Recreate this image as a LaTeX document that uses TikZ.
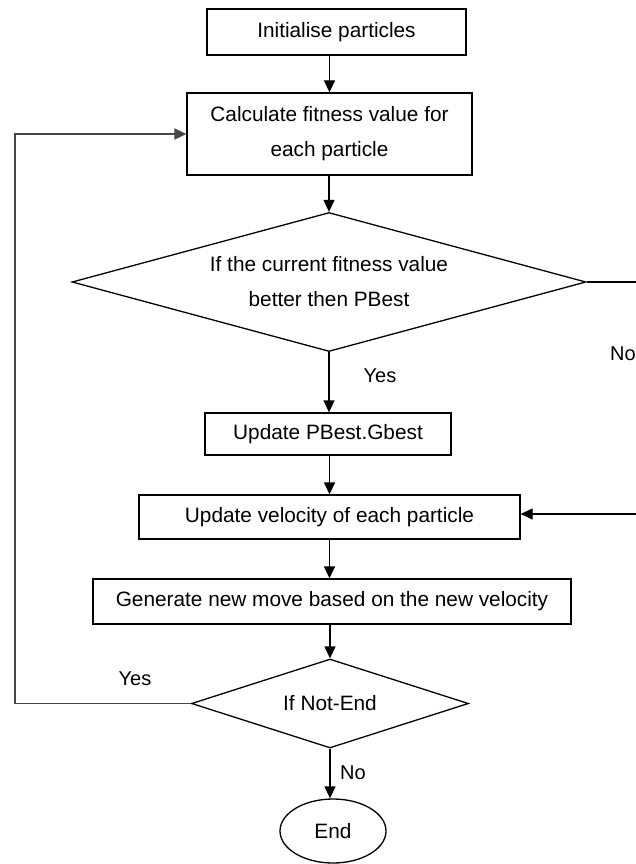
\documentclass[tikz,border=0pt]{standalone}
\usepackage{fontspec}
\setmainfont{Liberation Sans}
\usetikzlibrary{shapes.geometric,arrows.meta}
\definecolor{loopgray}{RGB}{70,70,70}
\begin{document}
\begin{tikzpicture}[x=1pt,y=-1pt,
  every node/.style={font=\fontsize{20.8}{35}\selectfont, inner sep=0pt},
  stepbox/.style={draw, line width=1.3pt, rectangle, align=center},
  decision/.style={draw, line width=1.3pt, diamond, align=center},
  terminal/.style={draw, line width=1.3pt, ellipse},
  flow/.style={line width=1.3pt, -{Triangle[length=12pt,width=11pt]}},
  plain/.style={line width=1.3pt},
  loopline/.style={line width=1.8pt, draw=loopgray, -{Triangle[length=12pt,width=11pt]}},
  lbl/.style={font=\fontsize{20}{22}\selectfont}]
\useasboundingbox[fill=white] (0,0) rectangle (636,864);

% process boxes
\node[stepbox, minimum width=259pt, minimum height=46pt] (init) at (336.5,32) {Initialise particles};
\node[stepbox, minimum width=285pt, minimum height=82pt] (calc) at (329.5,134) {Calculate fitness value for\\each particle};
\node[decision, shape aspect=3.7, minimum width=514pt, minimum height=139pt] (d1) at (329,282) {If the current fitness value\\better then PBest};
\node[stepbox, minimum width=246pt, minimum height=42pt] (upd) at (328,434) {Update PBest.Gbest};
\node[stepbox, minimum width=381pt, minimum height=44pt] (vel) at (329.5,517) {Update velocity of each particle};
\node[stepbox, minimum width=478pt, minimum height=45pt] (gen) at (332,601.5) {Generate new move based on the new velocity};
\node[decision, shape aspect=3.1, minimum width=277pt, minimum height=89pt] (d2) at (330,703.5) {If Not-End};
\node[terminal, minimum width=106pt, minimum height=64pt] (end) at (333,831) {End};

% main flow
\draw[flow] (init.south -| calc.north) -- (calc.north);
\draw[flow] (calc.south -| d1.north) -- (d1.north);
\draw[flow] (d1.south) -- (d1.south |- upd.north);
\draw[flow] (upd.south -| vel.north) -- (vel.north);
\draw[flow] (vel.south) -- (vel.south |- gen.north);
\draw[flow] (gen.south -| d2.north) -- (d2.north);
\draw[flow] (d2.south) -- (d2.south |- end.north);

% loop back to the fitness calculation
\coordinate (loopcorner) at (15,703.5);
\draw[loopline] (d2.west) -- (loopcorner) |- (calc.west);

% "No" branch leaving at the right edge and re-entering at velocity update
\coordinate (rightout) at (636,282);
\coordinate (rightin) at (636,514);
\draw[plain] (d1.east) -- (rightout);
\draw[flow] (rightin) -- (rightin -| vel.east);

% branch labels
\node[lbl] (yes1) at (380,376) {Yes};
\node[lbl] (no1) at (623,354) {No};
\node[lbl] (yes2) at (135,679) {Yes};
\node[lbl] (no2) at (353,773) {No};
\end{tikzpicture}
\end{document}
